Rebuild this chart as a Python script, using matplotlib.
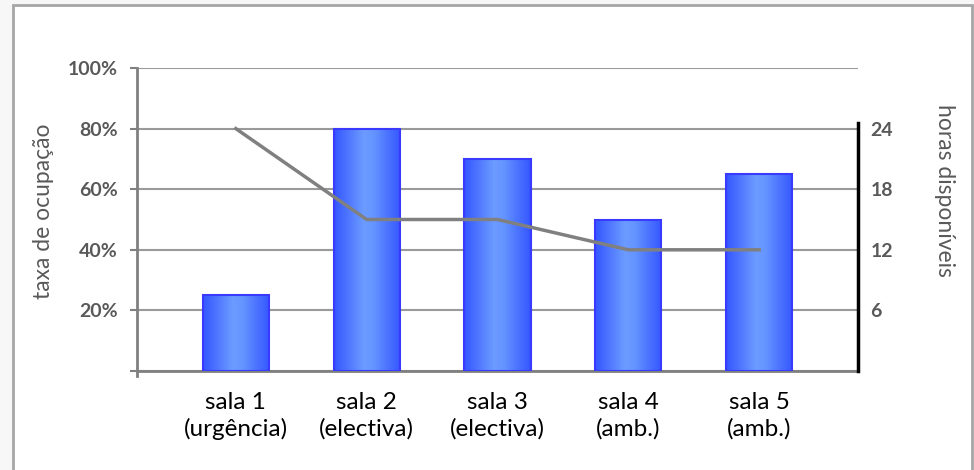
import numpy as np
import matplotlib
matplotlib.use('Agg')
import matplotlib.pyplot as plt
from matplotlib.colors import LinearSegmentedColormap
from matplotlib.patches import Rectangle
from matplotlib.ticker import PercentFormatter, FixedLocator

plt.rcParams['font.family'] = ['Lato', 'DejaVu Sans']

salas = ['sala 1\n(urgência)', 'sala 2\n(electiva)', 'sala 3\n(electiva)',
         'sala 4\n(amb.)', 'sala 5\n(amb.)']
ocupacao = [0.25, 0.80, 0.70, 0.50, 0.65]
horas = [24, 15, 15, 12, 12]

W, H = 974, 470
fig = plt.figure(figsize=(W / 100, H / 100), dpi=100)
fig.patch.set_facecolor('#f7f7f7')

# white chart area with grey border
fig.patches.append(Rectangle((13 / W, -0.05), (972 - 13) / W, (H - 5) / H + 0.05,
                             transform=fig.transFigure, facecolor='white',
                             edgecolor='#a6a6a6', linewidth=2, zorder=-10))

ax = fig.add_axes([137 / W, 99 / H, 721 / W, 303 / H])
ax.set_facecolor('none')
x = np.arange(len(salas))

cmap = LinearSegmentedColormap.from_list(
    'barra', [(0, '#3557ff'), (0.45, '#6c9cff'), (0.6, '#6494ff'), (1, '#3557ff')])
grad = np.linspace(0, 1, 64).reshape(1, -1)
bars = ax.bar(x, ocupacao, width=0.505, facecolor='none', edgecolor='#3a3aff',
              linewidth=1.5, zorder=3)
for b in bars:
    im = ax.imshow(grad, cmap=cmap, aspect='auto', zorder=2,
                   extent=[b.get_x(), b.get_x() + b.get_width(), 0, b.get_height()])
    im.set_clip_path(b)
ax.set_xlim(-0.755, len(salas) - 1 + 0.755)
ax.set_ylim(0, 1)

ax.set_xticks(x)
ax.set_xticklabels(salas, fontsize=17.5, color='black', linespacing=1.3)
ax.tick_params(axis='x', length=0, pad=15)

ax.yaxis.set_major_locator(FixedLocator([0, 0.2, 0.4, 0.6, 0.8, 1.0]))
ax.yaxis.set_major_formatter(PercentFormatter(1.0, decimals=0))
ax.set_yticklabels(['', '20%', '40%', '60%', '80%', '100%'])
for lbl in ax.get_yticklabels():
    lbl.set_fontweight('bold')
ax.tick_params(axis='y', length=5, width=1.5, color='#808080', labelsize=14,
               labelcolor='#595959', pad=9)
ax.grid(axis='y', color='#9a9a9a', linewidth=1.5)
ax.set_axisbelow(True)
for side in ['top', 'right']:
    ax.spines[side].set_visible(False)
for side in ['left', 'bottom']:
    ax.spines[side].set_color('#808080')
    ax.spines[side].set_linewidth(2)
ax.spines['left'].set_bounds(-0.018, 1)

ax2 = ax.twinx()
ax2.set_ylim(0, 30)
ax2.plot(x, horas, color='#808080', linewidth=2.5, zorder=5)
ax2.set_yticks([6, 12, 18, 24])
for lbl in ax2.get_yticklabels():
    lbl.set_fontweight('bold')
ax2.tick_params(axis='y', length=0, labelsize=14, labelcolor='#595959', pad=9)
for side in ['top', 'left', 'bottom']:
    ax2.spines[side].set_visible(False)
ax2.spines['right'].set_color('black')
ax2.spines['right'].set_linewidth(2.5)
ax2.spines['right'].set_bounds(0, 24.6)

# axis titles
fig.text(44 / W, 1 - 211 / H, 'taxa de ocupação', fontsize=16.5, color='#595959',
         rotation=90, ha='center', va='center')
fig.text(944 / W, 1 - 190 / H, 'horas disponíveis', fontsize=16.5, color='#595959',
         rotation=-90, ha='center', va='center')

fig.savefig('out.png', dpi=100, facecolor=fig.get_facecolor())
